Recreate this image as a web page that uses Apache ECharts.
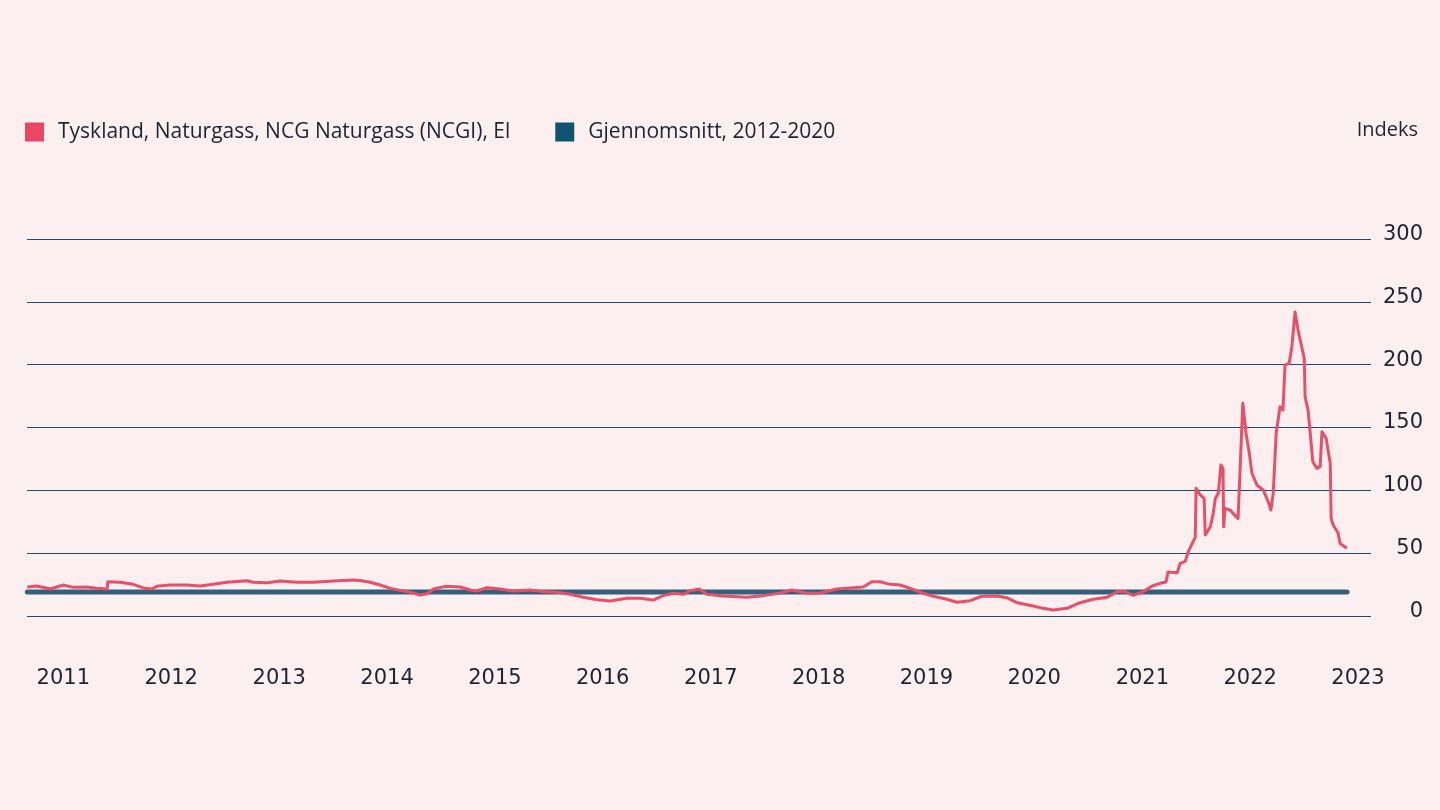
<!DOCTYPE html>
<html>
<head>
<meta charset="utf-8">
<script src="https://cdn.jsdelivr.net/npm/echarts@6/dist/echarts.min.js"></script>
<style>
html,body{margin:0;padding:0;background:#fcefef;}
#chart{width:1440px;height:810px;}
</style>
</head>
<body>
<div id="chart"></div>
<script>
const yearLabels = ['2011','2012','2013','2014','2015','2016','2017','2018','2019','2020','2021','2022','2023'];

const gasDates = [
'2010-09-01','2010-10-02','2010-10-31','2010-11-17','2011-01-01','2011-02-03','2011-03-21','2011-04-24','2011-05-29','2011-06-01',
'2011-07-12','2011-08-25','2011-10-04','2011-10-27','2011-11-13','2011-12-28','2012-02-23','2012-04-08','2012-05-22','2012-07-08',
'2012-09-14','2012-10-05','2012-11-21','2013-01-05','2013-03-02','2013-04-26','2013-07-03','2013-09-09','2013-10-02','2013-11-05',
'2013-12-09','2014-01-12','2014-02-15','2014-03-20','2014-04-23','2014-05-16','2014-06-07','2014-07-17','2014-09-06','2014-10-09',
'2014-11-01','2014-12-05','2015-01-19','2015-03-04','2015-04-30','2015-06-13','2015-07-30','2015-09-13','2015-10-27','2015-12-12',
'2016-01-26','2016-03-23','2016-05-07','2016-06-20','2016-07-24','2016-08-27','2016-09-30','2016-10-20','2016-11-23','2016-12-19',
'2017-02-12','2017-05-03','2017-06-27','2017-08-24','2017-10-03','2017-11-22','2018-01-06','2018-03-04','2018-04-28','2018-06-01',
'2018-06-30','2018-07-28','2018-08-31','2018-10-04','2018-11-07','2018-12-11','2019-01-24','2019-03-11','2019-04-14','2019-05-29',
'2019-07-07','2019-08-27','2019-09-30','2019-11-05','2019-12-28','2020-01-31','2020-03-05','2020-04-21','2020-06-04','2020-07-18',
'2020-09-04','2020-10-08','2020-11-04','2020-12-01','2021-01-04','2021-02-03','2021-03-02','2021-03-22','2021-03-29','2021-04-29',
'2021-05-09','2021-05-26','2021-06-05','2021-06-29','2021-07-02','2021-07-16','2021-07-29','2021-08-02','2021-08-19','2021-08-29',
'2021-09-05','2021-09-15','2021-09-24','2021-10-01','2021-10-03','2021-10-08','2021-10-25','2021-11-04','2021-11-21','2021-12-07',
'2021-12-18','2021-12-29','2022-01-07','2022-01-24','2022-02-14','2022-03-03','2022-03-12','2022-03-20','2022-03-30','2022-04-12',
'2022-04-22','2022-04-29','2022-05-13','2022-05-22','2022-06-02','2022-06-12','2022-07-03','2022-07-06','2022-07-16','2022-08-01',
'2022-08-15','2022-08-26','2022-09-01','2022-09-15','2022-09-29','2022-10-02','2022-10-09','2022-10-26','2022-11-01','2022-11-24'
];
const gasValues = [
23, 23.9, 22.5, 21.5, 24.7, 22.8, 23, 22, 21.5, 27.3,
26.8, 25.2, 22, 21.5, 23.6, 24.7, 24.7, 23.9, 25.2, 26.8,
28.1, 26.8, 26.5, 27.8, 26.8, 26.8, 27.8, 28.6, 28.3, 26.8,
24.7, 22, 20.4, 18.9, 16.7, 17.7, 21.5, 23.6, 23.1, 20.7,
19.9, 22.5, 21.5, 19.9, 20.7, 19.4, 18.9, 17.3, 14.9, 13,
11.9, 14.1, 14.1, 12.7, 16.2, 18.1, 17.3, 19.9, 21.5, 17.3,
15.9, 14.9, 16.2, 18.3, 20.7, 18.1, 18.3, 21.5, 22.5, 23.1,
27.3, 27.3, 25.2, 24.7, 22, 18.9, 15.7, 13.3, 10.9, 12.2,
15.7, 15.9, 14.6, 10.5, 8, 6.1, 4.8, 6.1, 10.6, 13.3,
14.9, 19.4, 19.4, 16.5, 19.4, 23.9, 26, 27, 35, 34.5,
41.9, 43.5, 51, 62.5, 101.6, 96.3, 93.6, 64.5, 71, 81.7,
93.6, 97.6, 120.2, 117.5, 71, 85.7, 84.3, 81.7, 77.7, 169.3,
145.4, 129.5, 113.6, 104.2, 100.3, 91, 84.3, 97.6, 145.4, 166.5,
163.9, 199.7, 201.1, 214.3, 242, 227.6, 205, 174.5, 163.9, 122.8,
117.5, 118.8, 146.6, 141.4, 121.5, 77.7, 72.4, 65.8, 57.8, 53.9
];

const avgDates = ['2010-09-01', '2022-11-25'];
const avgValue = 19;

const seriesNames = ['Tyskland, Naturgass, NCG Naturgass (NCGI), El', 'Gjennomsnitt, 2012-2020'];
const unitLabel = 'Indeks';
const xRange = ['2010-08-31', '2023-02-14'];

const ts = s => { const p = s.split('-').map(Number); return Date.UTC(p[0], p[1] - 1, p[2]); };
const gasData = gasDates.map((d, i) => [ts(d), gasValues[i]]);
const avgData = avgDates.map(d => [ts(d), avgValue]);
const yearTicks = yearLabels.map(y => Date.UTC(+y, 0, 1));

const chart = echarts.init(document.getElementById('chart'), null, {renderer: 'canvas'});
const textColor = '#1e2433';
chart.setOption({
  backgroundColor: '#fcefef',
  animation: false,
  legend: {
    left: 25, top: 120, padding: 0,
    icon: 'rect', itemWidth: 19, itemHeight: 19, itemGap: 45,
    textStyle: {fontFamily: 'Open Sans', fontSize: 21, color: textColor, padding: [5, 0, 0, 9], lineHeight: 19},
    data: [
      {name: seriesNames[0], itemStyle: {color: '#e94862'}},
      {name: seriesNames[1], itemStyle: {color: '#0f5272'}}
    ]
  },
  graphic: [{
    type: 'text', right: 22, top: 120,
    style: {text: unitLabel, fontFamily: 'Open Sans', fontSize: 20, fill: textColor}
  }],
  grid: {left: 27, right: 69, top: 239, bottom: 194, containLabel: false},
  xAxis: {
    type: 'value',
    min: ts(xRange[0]), max: ts(xRange[1]),
    axisLine: {show: false}, axisTick: {show: false}, splitLine: {show: false},
    axisLabel: {
      customValues: yearTicks,
      formatter: v => String(new Date(v).getUTCFullYear()),
      fontFamily: 'DejaVu Sans', fontSize: 21, color: textColor, margin: 52
    }
  },
  yAxis: {
    type: 'value', position: 'right', min: 0, max: 300, interval: 50,
    axisLine: {show: false}, axisTick: {show: false},
    splitLine: {lineStyle: {color: '#26466a', width: 1}},
    axisLabel: {
      align: 'right', margin: 52, fontFamily: 'DejaVu Sans', fontSize: 21, color: textColor,
      verticalAlign: 'bottom', lineHeight: 9
    }
  },
  series: [
    {
      name: seriesNames[1], type: 'line', data: avgData, showSymbol: false, z: 2,
      itemStyle: {color: '#0f5272'},
      lineStyle: {color: '#33607d', width: 5, cap: 'round'}
    },
    {
      name: seriesNames[0], type: 'line', data: gasData, showSymbol: false, z: 3,
      itemStyle: {color: '#e94862'},
      lineStyle: {color: '#e84f69', width: 3, join: 'round'}
    }
  ]
});
</script>
</body>
</html>
